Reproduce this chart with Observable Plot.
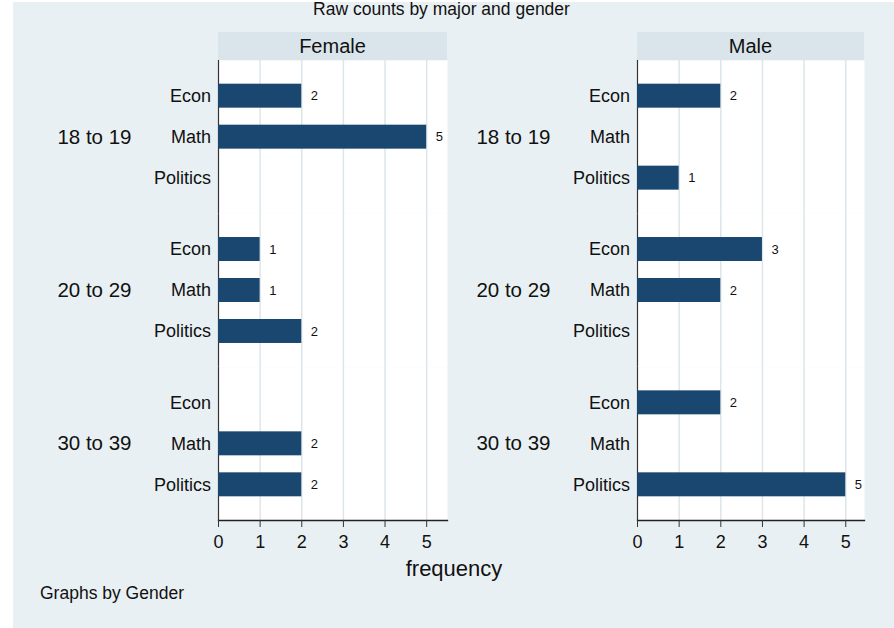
<!DOCTYPE html>
<html>
<head>
<meta charset="utf-8">
<script src="https://cdn.jsdelivr.net/npm/d3@7"></script>
<script src="https://cdn.jsdelivr.net/npm/@observablehq/plot@0.6"></script>
<style>
  html, body { margin: 0; padding: 0; background: #fff; }
  #wrap { position: relative; width: 894px; height: 628px; overflow: hidden; background: #fff;
          font-family: "Liberation Sans", Arial, sans-serif; color: #111; }
  #bg { position: absolute; left: 13px; top: 2px; right: 0; bottom: 0; background: #e9f0f3; }
  .abs { position: absolute; white-space: nowrap; }
  .strip { position: absolute; top: 32px; height: 28px; line-height: 28px; background: #d9e5eb;
           font-size: 20px; text-align: center; }
  .chart { position: absolute; top: 0; }
  .chart svg { overflow: visible; }
</style>
</head>
<body>
<div id="wrap">
  <div id="bg"></div>
  <div class="abs" id="title" style="left:0;width:883px;top:1px;font-size:17.5px;line-height:17.5px;text-align:center;"></div>
  <div class="strip" id="strip0" style="left:218px;width:229px;"></div>
  <div class="strip" id="strip1" style="left:637px;width:227px;"></div>
  <div class="chart" id="chart0" style="left:0px;width:450px;"></div>
  <div class="chart" id="chart1" style="left:419px;width:448px;"></div>
  <div class="abs" id="xlabel" style="left:254px;width:400px;top:558.4px;font-size:22px;line-height:22px;text-align:center;"></div>
  <div class="abs" id="note" style="left:40px;top:585.2px;font-size:17.5px;line-height:17.5px;"></div>
</div>
<script>
// ---- data ----
const titleText = "Raw counts by major and gender";
const genders = ["Female", "Male"];
const ageGroups = ["18 to 19", "20 to 29", "30 to 39"];
const majors = ["Econ", "Math", "Politics"];
// counts by age group (rows) and major (columns); 0 = no bar
const femaleCounts = [[2, 5, 0], [1, 1, 2], [0, 2, 2]];
const maleCounts = [[2, 0, 1], [3, 2, 0], [2, 0, 5]];
const xTicks = [0, 1, 2, 3, 4, 5];
const xAxisTitle = "frequency";
const noteText = "Graphs by Gender";

document.getElementById("title").textContent = titleText;
document.getElementById("xlabel").textContent = xAxisTitle;
document.getElementById("note").textContent = noteText;
document.getElementById("strip0").textContent = genders[0];
document.getElementById("strip1").textContent = genders[1];

function rowsFrom(counts) {
  const rows = [];
  ageGroups.forEach((age, i) => majors.forEach((major, j) => {
    const n = counts[i][j];
    if (n > 0) rows.push({age, major, n});
  }));
  return rows;
}

function panel(counts, width, xMax) {
  const rows = rowsFrom(counts);
  return Plot.plot({
    width, height: 560,
    marginLeft: 218, marginRight: 3, marginTop: 60, marginBottom: 40,
    style: {background: "transparent", fontFamily: "Liberation Sans, Arial, sans-serif", color: "#111", overflow: "visible"},
    x: {domain: [0, xMax]},
    y: {domain: majors, paddingInner: 0.415, paddingOuter: 0.578, align: 0.5, round: false},
    fy: {domain: ageGroups, padding: 0, round: false},
    marks: [
      Plot.frame({fill: "white", stroke: "none"}),
      Plot.gridX({ticks: xTicks.slice(1), stroke: "#dce6ea", strokeOpacity: 1, strokeWidth: 1.5}),
      Plot.ruleX([0], {stroke: "#333", strokeWidth: 1.2}),
      Plot.barX(rows, {x: "n", y: "major", fy: "age", fill: "#1a476f"}),
      Plot.text(rows, {x: "n", y: "major", fy: "age", text: d => String(d.n), textAnchor: "start", dx: 9, fontSize: 13, fill: "#111"}),
      Plot.axisY({tickSize: 0, tickPadding: 7.5, fontSize: 18, label: null}),
      Plot.axisFy({anchor: "left", tickSize: 0, tickPadding: 87, fontSize: 20.5, label: null}),
      Plot.frame({anchor: "bottom", facetAnchor: "bottom", stroke: "#222", strokeWidth: 1.3}),
      Plot.axisX({ticks: xTicks, tickFormat: d3.format("d"), tickSize: 7, tickPadding: 8, fontSize: 18, label: null, stroke: "#333"})
    ]
  });
}

document.getElementById("chart0").appendChild(panel(femaleCounts, 450, 5.5));
document.getElementById("chart1").appendChild(panel(maleCounts, 448, 5.45));
</script>
</body>
</html>
